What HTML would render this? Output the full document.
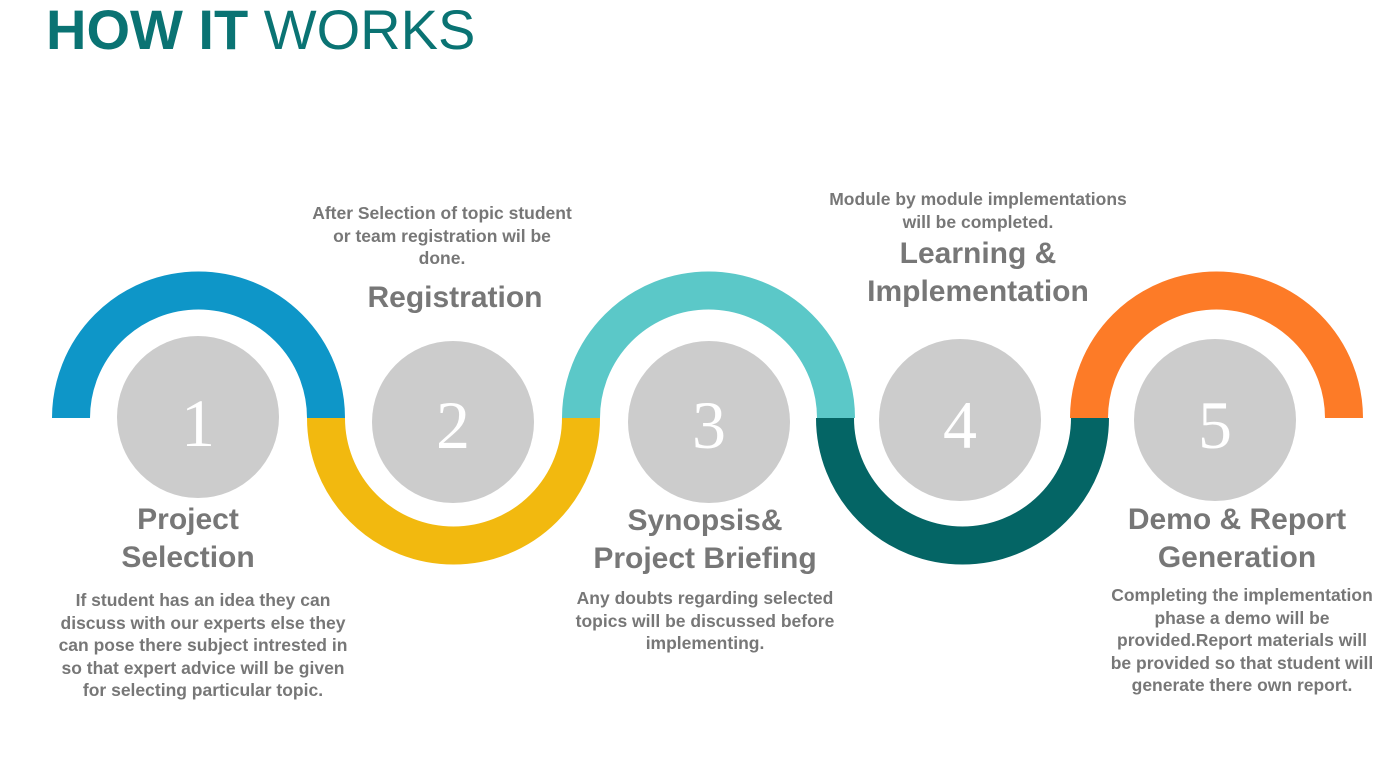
<!DOCTYPE html>
<html><head><meta charset="utf-8"><style>
body{margin:0;width:1393px;height:778px;background:#fff;position:relative;overflow:hidden;font-family:"Liberation Sans",sans-serif;}
.t{position:absolute;text-align:center;color:#777;font-weight:bold;}
.h{font-size:30px;line-height:38px;}
.b{font-size:17.5px;line-height:22.5px;}
.title{position:absolute;left:46px;top:-3px;font-size:56px;color:#0a7373;white-space:nowrap;}
</style></head><body>
<div class="title"><b>HOW IT</b> WORKS</div>
<svg width="1393" height="778" style="position:absolute;left:0;top:0">
<g fill="none" stroke-width="38">
<path d="M71 418 A127.5 127.5 0 0 1 326 418" stroke="#0e96c8"/>
<path d="M326 418 A127.5 127.5 0 0 0 581 418" stroke="#f2b90f"/>
<path d="M581 418 A127.5 127.5 0 0 1 836 418" stroke="#5bc8c8"/>
<path d="M835 418 A127.5 127.5 0 0 0 1090 418" stroke="#046565"/>
<path d="M1089 418 A127.5 127.5 0 0 1 1344 418" stroke="#fd7b27"/>
</g>
<g fill="#cccccc">
<circle cx="198" cy="417" r="81"/><circle cx="453" cy="422" r="81"/><circle cx="709" cy="422" r="81"/><circle cx="960" cy="420" r="81"/><circle cx="1215" cy="420" r="81"/>
</g>
<g fill="#fff" font-family="Liberation Serif,serif" font-size="68" text-anchor="middle">
<text x="198" y="446">1</text><text x="453" y="448">2</text><text x="709" y="448">3</text><text x="960" y="448">4</text><text x="1215" y="448">5</text>
</g>
</svg>
<div class="t h" style="left:38px;width:300px;top:501px">Project<br>Selection</div>
<div class="t b" style="left:23px;width:360px;top:589px">If student has an idea they can<br>discuss with our experts else they<br>can pose there subject intrested in<br>so that expert advice will be given<br>for selecting particular topic.</div>
<div class="t b" style="left:282px;width:320px;top:202px">After Selection of topic student<br>or team registration wil be<br>done.</div>
<div class="t h" style="left:305px;width:300px;top:279px">Registration</div>
<div class="t h" style="left:555px;width:300px;top:502px">Synopsis&amp;<br>Project Briefing</div>
<div class="t b" style="left:545px;width:320px;top:587px">Any doubts regarding selected<br>topics will be discussed before<br>implementing.</div>
<div class="t b" style="left:803px;width:350px;top:188px">Module by module implementations<br>will be completed.</div>
<div class="t h" style="left:818px;width:320px;top:235px">Learning &amp;<br>Implementation</div>
<div class="t h" style="left:1087px;width:300px;top:501px">Demo &amp; Report<br>Generation</div>
<div class="t b" style="left:1077px;width:330px;top:584px">Completing the implementation<br>phase a demo will be<br>provided.Report materials will<br>be provided so that student will<br>generate there own report.</div>
</body></html>
